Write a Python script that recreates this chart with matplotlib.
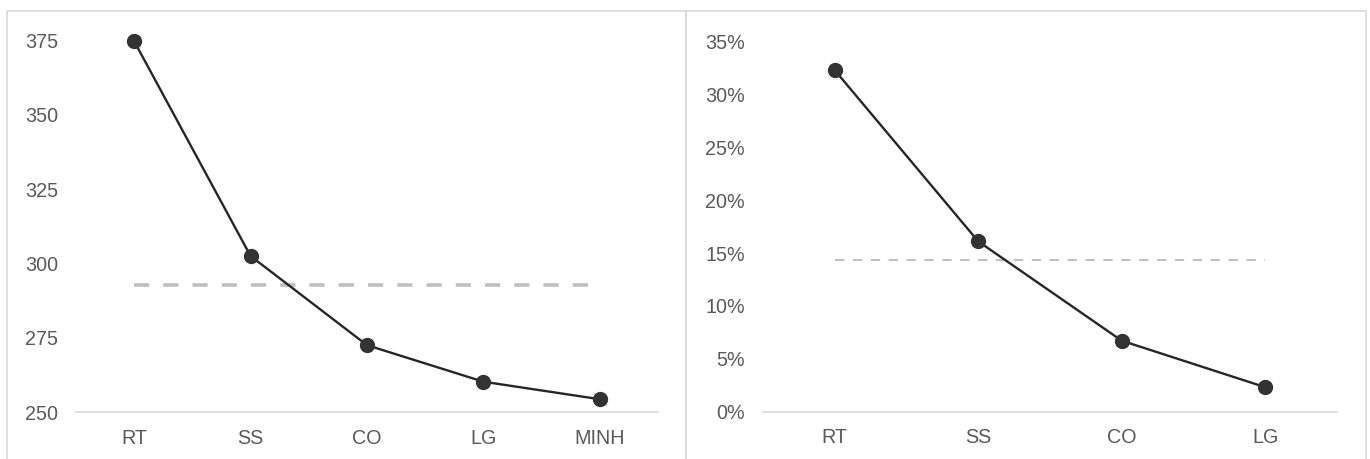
import matplotlib
matplotlib.use("Agg")
import matplotlib.pyplot as plt
from matplotlib.patches import Rectangle
from matplotlib.ticker import FuncFormatter

plt.rcParams['font.family'] = ['Liberation Sans', 'DejaVu Sans']

# Left panel: absolute values
left_cats = ["RT", "SS", "CO", "LG", "MINH"]
left_vals = [374.8, 302.5, 272.5, 260.2, 254.3]
left_ticks = [250, 275, 300, 325, 350, 375]

# Right panel: shares
right_cats = ["RT", "SS", "CO", "LG"]
right_vals = [0.323, 0.161, 0.067, 0.023]
right_ticks = [0.0, 0.05, 0.10, 0.15, 0.20, 0.25, 0.30, 0.35]

W, H = 1370, 459
fig = plt.figure(figsize=(W / 100, H / 100), dpi=100)
fig.patch.set_facecolor("white")

# panel frames (they run past the bottom edge of the canvas)
border = "#d9d9d9"
for x0, x1 in [(6.5, 686), (686, 1366)]:
    fig.add_artist(Rectangle((x0 / W, -0.05), (x1 - x0) / W, (H - 11) / H + 0.05,
                             transform=fig.transFigure, fill=False,
                             edgecolor=border, linewidth=1.2, clip_on=False))

label_color = "#595959"
line_color = "#262626"
marker_color = "#333333"
mean_color = "#bfbfbf"


def style(ax, ticks, fmt=None):
    for s in ["top", "right", "left"]:
        ax.spines[s].set_visible(False)
    ax.spines["bottom"].set_color(border)
    ax.spines["bottom"].set_linewidth(1.2)
    ax.set_yticks(ticks)
    if fmt is not None:
        ax.yaxis.set_major_formatter(FuncFormatter(fmt))
    ax.tick_params(axis="y", length=0, pad=13, labelsize=14.2, labelcolor=label_color)
    ax.tick_params(axis="x", length=0, pad=12, labelsize=14.2, labelcolor=label_color)


# left
axL = fig.add_axes([76 / W, (H - 412) / H, 582 / W, (412 - 40.7) / H])
xl = list(range(len(left_cats)))
meanL = sum(left_vals) / len(left_vals)
axL.plot(xl, [meanL] * len(xl), color=mean_color, lw=2.6, dashes=(4.2, 3.9),
         solid_capstyle="butt", zorder=2)
axL.plot(xl, left_vals, color=line_color, lw=1.7, marker="o", markersize=10,
         markerfacecolor=marker_color, markeredgecolor=marker_color,
         clip_on=False, zorder=3)
axL.set_xlim(-0.5, len(left_cats) - 0.5)
axL.set_ylim(250, 375)
axL.set_xticks(xl)
axL.set_xticklabels(left_cats)
style(axL, left_ticks)

# right
axR = fig.add_axes([763 / W, (H - 411.5) / H, 574 / W, (411.5 - 41.7) / H])
xr = list(range(len(right_cats)))
meanR = sum(right_vals) / len(right_vals)
axR.plot(xr, [meanR] * len(xr), color=mean_color, lw=1.4, dashes=(4.8, 4.4),
         zorder=2)
axR.plot(xr, right_vals, color=line_color, lw=1.7, marker="o", markersize=10,
         markerfacecolor=marker_color, markeredgecolor=marker_color,
         clip_on=False, zorder=3)
axR.set_xlim(-0.5, len(right_cats) - 0.5)
axR.set_ylim(0, 0.35)
axR.set_xticks(xr)
axR.set_xticklabels(right_cats)
style(axR, right_ticks, lambda v, p: f"{v * 100:.0f}%")

fig.savefig("out.png", dpi=100, facecolor="white")
